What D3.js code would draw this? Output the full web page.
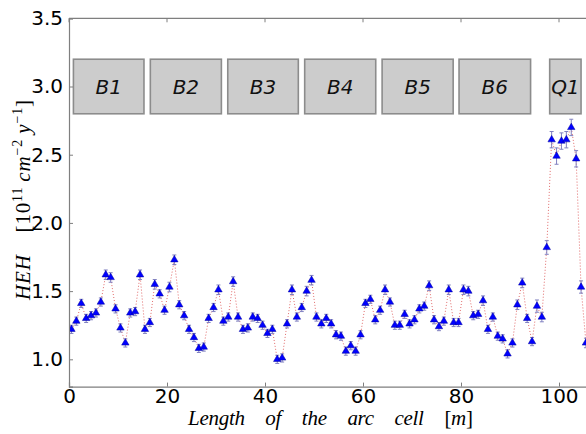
<!DOCTYPE html>
<html><head><meta charset="utf-8">
<script src="https://cdn.jsdelivr.net/npm/d3@7"></script>
<style>
html,body{margin:0;padding:0;background:#fff;}
svg{display:block;}
</style></head>
<body>
<svg id="chart" width="586" height="434"></svg>
<script>
// ---- data ----
const positions = [0.5,1.5,2.5,3.5,4.5,5.5,6.5,7.5,8.5,9.5,10.5,11.5,12.5,13.5,14.5,15.5,16.5,17.5,18.5,19.5,
20.5,21.5,22.5,23.5,24.5,25.5,26.5,27.5,28.5,29.5,30.5,31.5,32.5,33.5,34.5,35.5,36.5,37.5,38.5,39.5,
40.5,41.5,42.5,43.5,44.5,45.5,46.5,47.5,48.5,49.5,50.5,51.5,52.5,53.5,54.5,55.5,56.5,57.5,58.5,59.5,
60.5,61.5,62.5,63.5,64.5,65.5,66.5,67.5,68.5,69.5,70.5,71.5,72.5,73.5,74.5,75.5,76.5,77.5,78.5,79.5,
80.5,81.5,82.5,83.5,84.5,85.5,86.5,87.5,88.5,89.5,90.5,91.5,92.5,93.5,94.5,95.5,96.5,97.5,98.5,99.5,
100.5,101.5,102.5,103.5,104.5,105.5];
const hehValues = [1.22,1.28,1.41,1.30,1.32,1.34,1.42,1.62,1.60,1.37,1.23,1.12,1.34,1.35,1.62,1.22,1.27,1.55,1.48,1.36,
1.53,1.73,1.40,1.32,1.22,1.16,1.08,1.09,1.30,1.38,1.51,1.28,1.31,1.57,1.31,1.22,1.23,1.31,1.30,1.25,
1.19,1.22,1.00,1.01,1.26,1.51,1.31,1.38,1.50,1.58,1.31,1.26,1.30,1.26,1.18,1.17,1.06,1.10,1.06,1.18,
1.41,1.44,1.29,1.36,1.51,1.42,1.25,1.25,1.33,1.26,1.29,1.37,1.39,1.54,1.29,1.24,1.28,1.51,1.27,1.27,
1.51,1.50,1.32,1.33,1.43,1.22,1.31,1.17,1.15,1.04,1.12,1.40,1.56,1.30,1.13,1.39,1.31,1.82,2.61,2.49,
2.60,2.61,2.70,2.47,1.53,1.12];
const hehErrors = [0.03,0.03,0.03,0.03,0.03,0.03,0.03,0.035,0.035,0.03,0.03,0.03,0.03,0.03,0.035,0.03,0.03,0.035,0.03,0.03,
0.035,0.035,0.03,0.03,0.03,0.03,0.03,0.03,0.03,0.03,0.035,0.03,0.03,0.035,0.03,0.03,0.03,0.03,0.03,0.03,
0.03,0.03,0.03,0.03,0.03,0.035,0.03,0.03,0.035,0.035,0.03,0.03,0.03,0.03,0.03,0.03,0.03,0.03,0.03,0.03,
0.03,0.03,0.03,0.03,0.035,0.03,0.03,0.03,0.03,0.03,0.03,0.03,0.03,0.035,0.03,0.03,0.03,0.035,0.03,0.03,
0.035,0.035,0.03,0.03,0.035,0.03,0.03,0.03,0.03,0.03,0.03,0.035,0.035,0.03,0.03,0.045,0.035,0.05,0.06,0.06,
0.06,0.06,0.06,0.06,0.045,0.035];
const sectionNames = ["B1","B2","B3","B4","B5","B6","Q1"];
const sectionStart = [0.9,16.6,32.4,48.1,63.9,79.6,98.1];
const sectionEnd   = [15.3,31.1,46.8,62.6,78.4,94.2,104.5];
const sectionBottom = 2.8, sectionTop = 3.2;
const xTicks = [0,20,40,60,80,100];
const yTicks = [1.0,1.5,2.0,2.5,3.0,3.5];

// ---- layout ----
const svg = d3.select("#chart");
const plotLeft = 69, plotTop = 18.3, pxPerX = 4.9, plotBottom = 386.6;
const x = d3.scaleLinear().domain([0,106]).range([plotLeft, plotLeft + 106*pxPerX]);
const y = d3.scaleLinear().domain([0.8,3.5]).range([plotBottom, plotTop]);
const axisColor = "#7f7f7f";

svg.append("defs").append("clipPath").attr("id","plotclip")
  .append("rect").attr("x",x(0)).attr("y",y(3.5)).attr("width",x(106)-x(0)).attr("height",y(0.8)-y(3.5));

// section boxes
const g = svg.append("g");
sectionNames.forEach((n,i)=>{
  g.append("rect")
    .attr("x", x(sectionStart[i])).attr("y", y(sectionTop))
    .attr("width", x(sectionEnd[i]) - x(sectionStart[i]))
    .attr("height", y(sectionBottom) - y(sectionTop))
    .attr("fill","#cccccc").attr("stroke","#8c8c8c").attr("stroke-width",1.6);
  g.append("text")
    .attr("x",(x(sectionStart[i])+x(sectionEnd[i]))/2)
    .attr("y",(y(sectionTop)+y(sectionBottom))/2)
    .attr("dy","0.36em").attr("text-anchor","middle")
    .attr("font-family","DejaVu Sans").attr("font-style","italic").attr("font-size",20)
    .attr("fill","#111").text(n);
});

const data = positions.map((p,i)=>({x:p, v:hehValues[i], e:hehErrors[i]}));
const plot = svg.append("g").attr("clip-path","url(#plotclip)");

// dotted line
plot.append("path").datum(data)
  .attr("d", d3.line().x(d=>x(d.x)).y(d=>y(d.v)))
  .attr("fill","none").attr("stroke","#e06a6a").attr("stroke-width",1)
  .attr("stroke-dasharray","1,2");

// error bars
const eb = plot.append("g").attr("stroke","#8080c0").attr("stroke-width",1);
data.forEach(d=>{
  const cx = x(d.x);
  eb.append("line").attr("x1",cx).attr("x2",cx).attr("y1",y(d.v-d.e)).attr("y2",y(d.v+d.e));
  eb.append("line").attr("x1",cx-2).attr("x2",cx+2).attr("y1",y(d.v-d.e)).attr("y2",y(d.v-d.e));
  eb.append("line").attr("x1",cx-2).attr("x2",cx+2).attr("y1",y(d.v+d.e)).attr("y2",y(d.v+d.e));
});

// markers
const tri = d3.symbol().type(d3.symbolTriangle).size(24);
plot.selectAll("path.m").data(data).enter().append("path").attr("class","m")
  .attr("d", tri)
  .attr("transform", d=>`translate(${x(d.x)},${y(d.v)})`)
  .attr("fill","#0000ff").attr("stroke","#00009a").attr("stroke-width",0.5);

// axes
const xAxis = d3.axisBottom(x).tickValues(xTicks).tickSize(-4).tickPadding(2).tickFormat(d3.format("d"));
const yAxis = d3.axisLeft(y).tickValues(yTicks).tickSize(-4).tickPadding(6).tickFormat(d3.format(".1f"));
const gx = svg.append("g").attr("transform",`translate(0,${plotBottom})`).call(xAxis);
const gy = svg.append("g").attr("transform",`translate(${plotLeft},0)`).call(yAxis);
[gx,gy].forEach(a=>{
  a.select(".domain").attr("stroke",axisColor).attr("stroke-width",1.2);
  a.selectAll(".tick line").attr("stroke",axisColor);
  a.selectAll(".tick text").attr("font-family","DejaVu Sans").attr("font-size",20).attr("fill","#000");
});
gx.selectAll(".tick text").attr("dy","0.7em");
// top spine
svg.append("line").attr("x1",x(0)).attr("x2",x(106)).attr("y1",plotTop).attr("y2",plotTop)
  .attr("stroke",axisColor).attr("stroke-width",1.2);
xTicks.forEach(t=>{
  svg.append("line").attr("x1",x(t)).attr("x2",x(t)).attr("y1",plotTop).attr("y2",plotTop+4).attr("stroke",axisColor);
});

// x label
const xl = svg.append("text").attr("x",188).attr("y",425)
  .attr("font-family","Liberation Serif").attr("font-size",21).attr("fill","#000")
  .attr("textLength",285).attr("lengthAdjust","spacing");
xl.append("tspan").attr("font-style","italic").text("Length\u2003of\u2003the\u2003arc\u2003cell");
xl.append("tspan").text("\u2003[");
xl.append("tspan").attr("font-style","italic").text("m");
xl.append("tspan").text("]");

// y label
const yl = svg.append("text").attr("transform","translate(30,300) rotate(-90)")
  .attr("font-family","Liberation Serif").attr("font-size",21).attr("fill","#000")
  .attr("textLength",200).attr("lengthAdjust","spacing");
yl.append("tspan").attr("font-style","italic").text("HEH");
yl.append("tspan").text("\u2003[10");
yl.append("tspan").attr("font-size",14).attr("baseline-shift","55%").text("11");
yl.append("tspan").attr("font-style","italic").text("\u2009cm");
yl.append("tspan").attr("font-size",14).attr("baseline-shift","55%").text("\u22122");
yl.append("tspan").attr("font-style","italic").text("\u2009y");
yl.append("tspan").attr("font-size",14).attr("baseline-shift","55%").text("\u22121");
yl.append("tspan").text("]");
</script>
</body></html>
